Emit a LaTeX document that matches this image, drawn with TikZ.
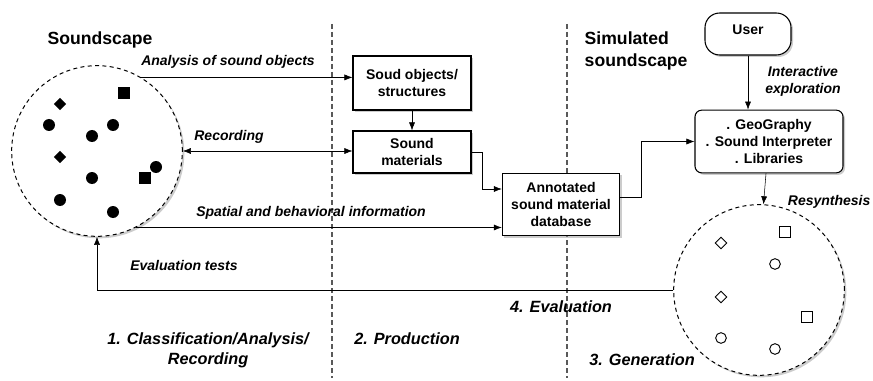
\documentclass[tikz,border=0pt]{standalone}
\usepackage{fontspec}
\setmainfont{Liberation Sans}
\usetikzlibrary{arrows.meta,positioning,calc,shadows,shapes.geometric}
\tikzset{
  arr/.style={-{Latex[length=6pt,width=4.5pt]}},
  arrboth/.style={{Latex[length=6pt,width=4.5pt]}-{Latex[length=6pt,width=4.5pt]}},
  shad/.style={drop shadow={shadow xshift=1.5pt,shadow yshift=-1.5pt,fill=black!40}},
  box/.style={draw,fill=white,line width=0.8pt,align=center,inner sep=2pt,shad},
  rbox/.style={box,rounded corners=5pt},
  lbl/.style={font=\fontsize{10.5}{12.6}\selectfont\bfseries\itshape,align=center},
  phase/.style={font=\fontsize{12.2}{15}\selectfont\bfseries\itshape,align=center},
  ttl/.style={font=\fontsize{13.2}{16.5}\selectfont\bfseries,align=left},
  sep/.style={dash pattern=on 3.5pt off 2.5pt,line width=0.8pt,black!65},
  scape/.style={circle,draw,dash pattern=on 3pt off 2.5pt,line width=0.75pt,fill=white,
    minimum size=128pt,inner sep=0pt,shad},
  fdot/.style={circle,fill,inner sep=0pt,minimum size=9pt},
  fsq/.style={rectangle,fill,inner sep=0pt,minimum size=9pt},
  fdia/.style={diamond,fill,inner sep=0pt,minimum size=9.5pt},
  odot/.style={circle,draw,line width=0.7pt,inner sep=0pt,minimum size=8pt},
  osq/.style={rectangle,draw,line width=0.7pt,inner sep=0pt,minimum size=8pt},
  odia/.style={diamond,draw,line width=0.7pt,inner sep=0pt,minimum size=9pt},
}

\begin{document}
\begin{tikzpicture}[x=0.75pt,y=-0.75pt,font=\fontsize{10.5}{12.6}\selectfont\bfseries]
  \useasboundingbox (0,0) rectangle (873,381);
  % phase separators
  \foreach \x in {332,567} \draw[sep] (\x,24) -- (\x,378);
  % real and simulated soundscapes
  \node[scape] (real) at (97,151) {};
  \node[scape] (sim) at (759,290) {};
  \foreach \x/\y [count=\i] in {49/125,113/125,92/136,156/167,92/178,60/200,113/212}
    \node[fdot] (rd\i) at (\x,\y) {};
  \foreach \x/\y [count=\i] in {124/93,145/178} \node[fsq] (rs\i) at (\x,\y) {};
  \foreach \x/\y [count=\i] in {60/104,60/157} \node[fdia] (rm\i) at (\x,\y) {};
  \foreach \x/\y [count=\i] in {775/264,721/338,775/349} \node[odot] (sd\i) at (\x,\y) {};
  \foreach \x/\y [count=\i] in {785/232,807/317} \node[osq] (ss\i) at (\x,\y) {};
  \foreach \x/\y [count=\i] in {721/243,721/297} \node[odia] (sm\i) at (\x,\y) {};
  % boxes
  \node[box,minimum width=88.5pt,minimum height=40.5pt] (obj) at (412,83) {Soud objects/\\structures};
  \node[box,minimum width=88.5pt,minimum height=31.5pt] (mat) at (412,152) {Sound\\materials};
  \node[box,minimum width=88pt,minimum height=47pt] (db) at (561,204.5)
    {Annotated\\sound material\\database};
  \node[rbox,minimum width=111pt,minimum height=47pt] (geo) at (769,141.5)
    {. GeoGraphy\\. Sound Interpreter\\. Libraries};
  \node[rbox,rounded corners=11pt,minimum width=64.5pt,minimum height=31.5pt] (user) at (748,34) {};
  \node (usertxt) at (748,30) {User};
  % connectors
  \draw[arr] (real.59) -- (real.59 -| obj.west);
  \draw[arrboth] (real.east) -- (real.east -| mat.west);
  \draw[arr] (real.-63.4) -- (real.-63.4 -| db.west);
  \draw[arr] (obj) -- (mat);
  \draw[arr] (mat.east) -- ++(11,0) |- ($(db.west)+(0,-15.5)$);
  \draw[arr] ($(db.east)+(0,-7.5)$) -- ++(21,0) |- (geo.west);
  \draw[arr] (user.south) -- (user.south |- geo.north);
  \draw[arr] ($(geo.south)+(-3,0)$) -- (sim.87);
  \draw[arr] (sim.west) -| (real.south);
  % titles and labels
  \node[ttl] (t1) at (100,40) {Soundscape};
  \node[ttl,anchor=west] (t2) at (580,51) {Simulated\\soundscape};
  \node[lbl] (l1) at (228,62) {Analysis of sound objects};
  \node[lbl] (l2) at (229,137) {Recording};
  \node[lbl] (l3) at (311,213) {Spatial and behavioral information};
  \node[lbl] (l4) at (184,265) {Evaluation tests};
  \node[lbl] (l5) at (803,81) {Interactive\\exploration};
  \node[lbl,anchor=east,inner sep=1pt] (l6) at (872,202) {Resynthesis};
  \node[phase] (p1) at (208,350) {1. Classification/Analysis/\\Recording};
  \node[phase] (p2) at (407,339) {2. Production};
  \node[phase] (p3) at (642,360) {3. Generation};
  \node[phase] (p4) at (561,307) {4. Evaluation};
\end{tikzpicture}
\end{document}
